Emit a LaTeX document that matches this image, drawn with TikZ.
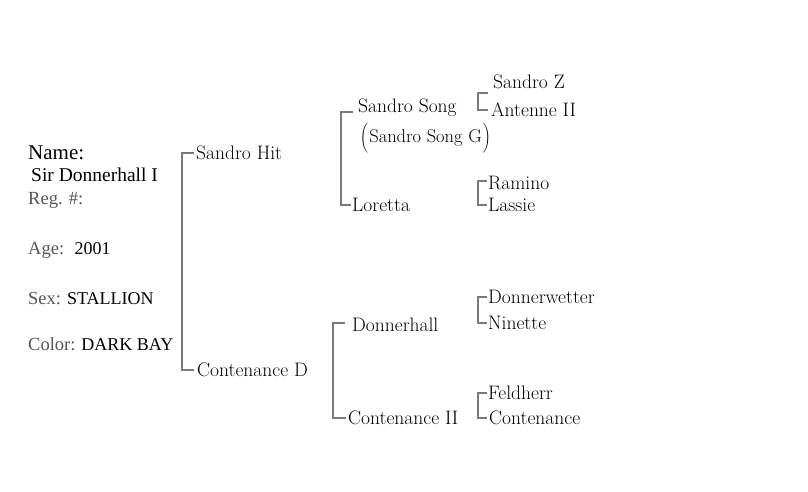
\documentclass[tikz,border=0pt]{standalone}
\usepackage{fontspec}
\newfontfamily\infofont{Liberation Serif}
\definecolor{tagcol}{HTML}{555555}
\definecolor{barcol}{HTML}{7A7A7A}
\newcommand\infotag[1]{{\color{tagcol}\fontsize{18.5}{22}\selectfont #1}}
\begin{document}
\begin{tikzpicture}[x=1pt,y=-1pt,
  horse/.style={anchor=west,inner sep=0pt,font=\fontsize{19.5}{22}\selectfont},
  info/.style={anchor=west,inner sep=0pt,font=\infofont\fontsize{18}{22}\selectfont},
  link/.style={draw=barcol,line width=1.6pt}]
\useasboundingbox (0,0) rectangle (808,491);
% the horse itself
\node[info,font=\infofont\fontsize{21}{22}\selectfont] (name) at (28,153) {Name:};
\node[info,font=\infofont\fontsize{19.5}{22}\selectfont] (sir) at (31,175) {Sir Donnerhall I};
\node[info] (reg) at (28,200) {\infotag{Reg. \#:}};
\node[info] (age) at (28,250) {\infotag{Age:}~ 2001};
\node[info] (sex) at (28,298) {\infotag{Sex:} STALLION};
\node[info] (color) at (28,344) {\infotag{Color:} DARK BAY};
% parents
\node[horse] (hit) at (196,153) {Sandro Hit};
\node[horse] (contd) at (197,370) {Contenance D};
\draw[link] ([xshift=-2]hit.west) -- ++(-12,0) |- ([xshift=-3]contd.west);
% grandparents
\node[horse] (song) at (358,108) {Sandro Song};
\node[horse,font=\fontsize{18.5}{22}\selectfont] (songg) at (360,139) {$\left(\vrule height 16pt depth 12pt width 0pt\right.$Sandro Song G$\left.\vrule height 16pt depth 12pt width 0pt\right)$};
\node[horse] (loretta) at (352,205) {Loretta};
\draw[link] ([shift={(-5,4)}]song.west) -- ++(-12,0) |- ([xshift=-1]loretta.west);
\node[horse] (donner) at (352,325) {Donnerhall};
\node[horse] (contii) at (348,418) {Contenance II};
\draw[link] ([shift={(-7,-2)}]donner.west) -- ++(-12,0) |- ([xshift=-2]contii.west);
% great-grandparents
\node[horse] (sandroz) at (493,82) {Sandro Z};
\node[horse] (antenne) at (491,110) {Antenne II};
\draw[link] ([shift={(-5,11)}]sandroz.west) -- ++(-10,0) |- ([xshift=-3]antenne.west);
\node[horse] (ramino) at (488,183) {Ramino};
\node[horse] (lassie) at (488,205) {Lassie};
\draw[link] ([shift={(-1,-2)}]ramino.west) -- ++(-9,0) |- ([xshift=-1]lassie.west);
\node[horse] (wetter) at (488,297) {Donnerwetter};
\node[horse] (ninette) at (488,323) {Ninette};
\draw[link] ([xshift=-1]wetter.west) -- ++(-9,0) |- ([xshift=-1]ninette.west);
\node[horse] (feld) at (488,393) {Feldherr};
\node[horse] (conten) at (489,418) {Contenance};
\draw[link] ([xshift=-1]feld.west) -- ++(-9,0) |- ([xshift=-2]conten.west);
\end{tikzpicture}
\end{document}
